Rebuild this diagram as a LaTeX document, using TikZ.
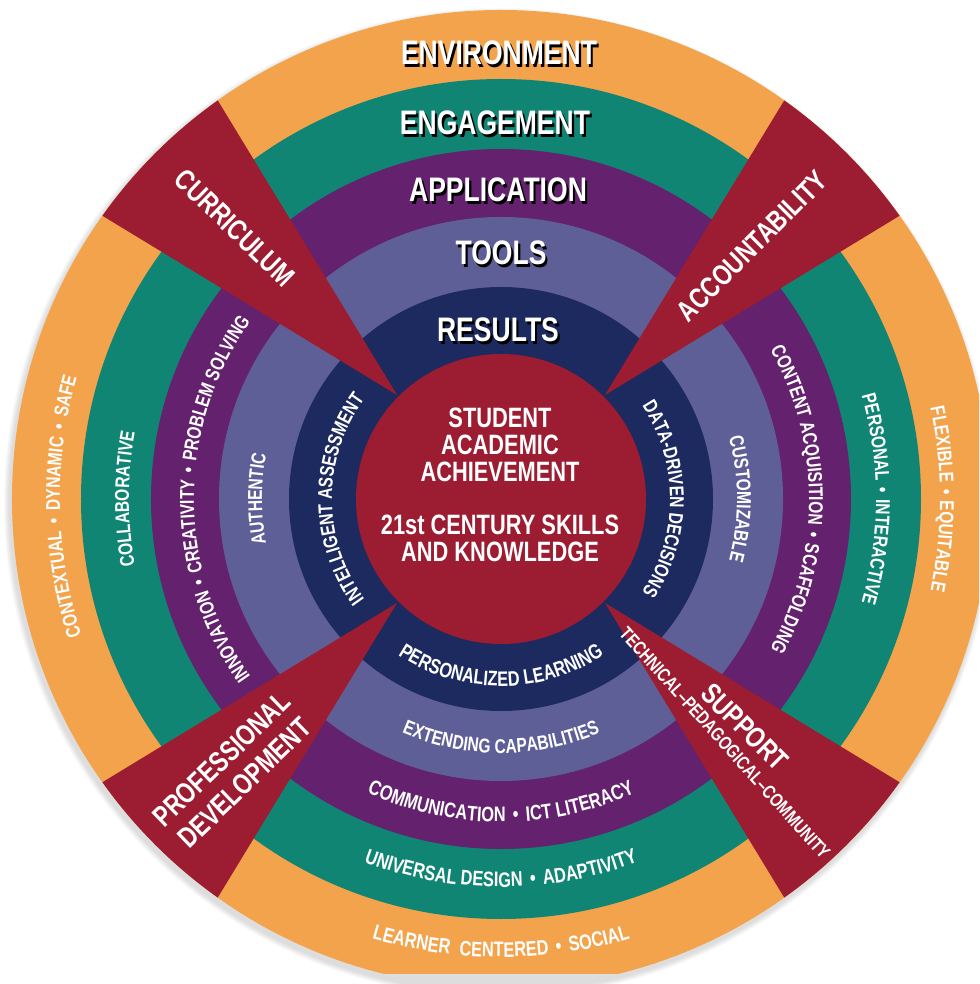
\documentclass[tikz,border=0pt]{standalone}
\usepackage{fontspec}
\setmainfont{Liberation Sans}
\newfontfamily\cond[FakeStretch=0.78]{Liberation Sans}
\usetikzlibrary{decorations.text}

\definecolor{cOrange}{HTML}{F3A34B}
\definecolor{cTeal}{HTML}{118574}
\definecolor{cPurple}{HTML}{64216E}
\definecolor{cSlate}{HTML}{5F5F98}
\definecolor{cNavy}{HTML}{1C2A5F}
\definecolor{cRed}{HTML}{9C1C31}

\newcommand\titlefont{\cond\bfseries\fontsize{34}{40}\selectfont}
\newcommand\midfont{\cond\bfseries\fontsize{28}{32}\selectfont}
\newcommand\ringfont{\cond\bfseries\fontsize{20}{24}\selectfont}
\newcommand\bottomfont{\cond\bfseries\fontsize{21}{24}\selectfont}
\newcommand\wedgefont{\cond\bfseries\fontsize{29}{33}\selectfont}
\newcommand\subwedgefont{\cond\bfseries\fontsize{19}{22}\selectfont}

\tikzset{
  ringtext/.style={decoration={text along path, text={#1}, text align=center, text color=white}, decorate},
  titletext/.style={anchor=base, font=\titlefont, text=white, inner sep=0pt},
  titleshadow/.style={anchor=base, font=\titlefont, text=black, inner sep=0pt},
  midtext/.style={anchor=base, font=\midfont, text=white, inner sep=0pt},
  wedgetext/.style={font=\wedgefont, text=white, inner sep=0pt, align=center},
  subwedgetext/.style={font=\subwedgefont, text=white, inner sep=0pt}
}

\begin{document}
\begin{tikzpicture}[x=1pt,y=1pt]
\useasboundingbox (-501,-485) rectangle (478,499);

% soft shadow
\begin{scope}
\clip (-501,-485) rectangle (478,499);
\foreach \k in {1,...,6}
  \fill[black, opacity=0.025] (-2,-4) circle ({489+\k});
\end{scope}

\begin{scope}
\clip (-501,-474) rectangle (478,499);
\fill[cOrange] (0,0) circle (489);
\fill[cTeal] (0,0) circle (420);
\fill[cPurple] (0,0) circle (350);
\fill[cSlate] (0,0) circle (282);
\fill[cNavy] (0,0) circle (212);
\foreach \t/\a/\b in {45/35.4/54.6, 135/125.4/144.6, 225/215.4/234.6, 315/305.4/324.6}
  \fill[cRed] (\t:147) -- (\a:489) arc (\a:\b:489) -- cycle;
\fill[cRed] (0,0) circle (145);
\end{scope}

% ring titles
\node[titleshadow] (envS) at (0.2,431.8) {ENVIRONMENT};
\node[titletext] (env) at (-2,434) {ENVIRONMENT};
\node[titleshadow] (engS) at (-3.8,361.8) {ENGAGEMENT};
\node[titletext] (eng) at (-6,364) {ENGAGEMENT};
\node[titleshadow] (appS) at (-0.8,294.8) {APPLICATION};
\node[titletext] (app) at (-3,297) {APPLICATION};
\node[titleshadow] (toolsS) at (2.2,231.8) {TOOLS};
\node[titletext] (tools) at (0,234) {TOOLS};
\node[titleshadow] (resS) at (-0.8,154.8) {RESULTS};
\node[titletext] (res) at (-3,157) {RESULTS};

% centre text
\node[midtext] (c1) at (-1,71) {STUDENT};
\node[midtext] (c2) at (-1,44) {ACADEMIC};
\node[midtext] (c3) at (-1,17) {ACHIEVEMENT};
\node[midtext] (c4) at (-1,-36) {21st CENTURY SKILLS};
\node[midtext] (c5) at (-1,-63) {AND KNOWLEDGE};

% navy ring
\path[ringtext={|\ringfont|INTELLIGENT ASSESSMENT}] (240:169) arc (240:120:169);
\path[ringtext={|\ringfont|DATA-DRIVEN DECISIONS}] (60:169) arc (60:-60:169);
\path[ringtext={|\bottomfont|PERSONALIZED LEARNING}] (200:187) arc (200:340:187);
% slate ring
\path[ringtext={|\ringfont|AUTHENTIC}] (240:239) arc (240:120:239);
\path[ringtext={|\ringfont|CUSTOMIZABLE}] (60:236) arc (60:-60:236);
\path[ringtext={|\ringfont|EXTENDING CAPABILITIES}] (210:254) arc (210:330:254);
% purple ring
\path[ringtext={|\ringfont|INNOVATION {\kern2pt}•{\kern2pt} CREATIVITY {\kern2pt}•{\kern2pt} PROBLEM SOLVING}] (240:307) arc (240:120:307);
\path[ringtext={|\ringfont|CONTENT ACQUISITION {\kern2pt}•{\kern2pt} SCAFFOLDING}] (60:308) arc (60:-60:308);
\path[ringtext={|\bottomfont|COMMUNICATION {\kern3pt}•{\kern3pt} ICT LITERACY}] (215:323) arc (215:325:323);
% teal ring
\path[ringtext={|\ringfont|COLLABORATIVE}] (240:372) arc (240:120:372);
\path[ringtext={|\ringfont|PERSONAL {\kern2pt}•{\kern2pt} INTERACTIVE}] (60:375) arc (60:-60:375);
\path[ringtext={|\bottomfont|UNIVERSAL DESIGN {\kern3pt}•{\kern3pt} ADAPTIVITY}] (215:388) arc (215:325:388);
% orange ring
\path[ringtext={|\ringfont|CONTEXTUAL {\kern3pt}•{\kern3pt} DYNAMIC {\kern3pt}•{\kern3pt} SAFE}] (241:441) arc (241:121:441);
\path[ringtext={|\ringfont|FLEXIBLE {\kern2pt}•{\kern2pt} EQUITABLE}] (60:439) arc (60:-60:439);
\path[ringtext={|\bottomfont|LEARNER {\kern5pt}CENTERED {\kern3pt}•{\kern3pt} SOCIAL}] (220:458) arc (220:320:458);

% wedge labels
\node[wedgetext, rotate=-44] (curr) at (-266,271) {CURRICULUM};
\node[wedgetext, rotate=45] (acc) at (251,253) {ACCOUNTABILITY};
\node[wedgetext, rotate=44] (prof) at (-268,-272) {PROFESSIONAL\\DEVELOPMENT};
\node[wedgetext, rotate=-45] (supp) at (244,-228) {SUPPORT};
\node[subwedgetext, rotate=-48] (tpc) at (224,-244) {TECHNICAL–PEDAGOGICAL–COMMUNITY};
\end{tikzpicture}
\end{document}
